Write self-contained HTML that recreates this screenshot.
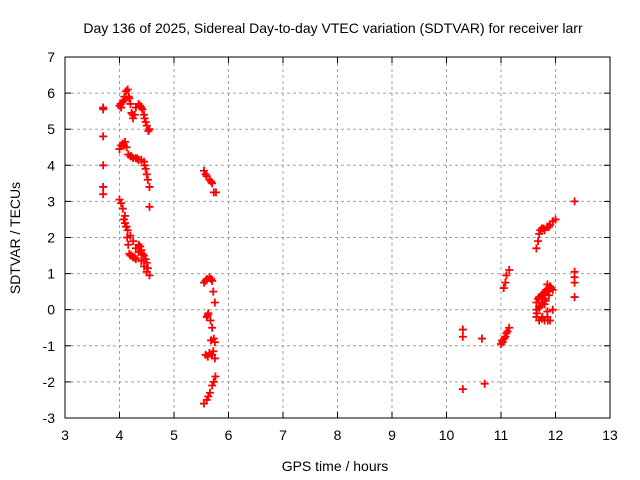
<!DOCTYPE html>
<html><head><meta charset="utf-8"><style>
body{margin:0;background:#fff;}
svg{display:block;font-family:"Liberation Sans",sans-serif;}
</style></head><body>
<svg id="chart" width="640" height="480" viewBox="0 0 640 480">
<rect width="640" height="480" fill="#fff"/>
<text x="333" y="33" font-size="14" text-anchor="middle">Day 136 of 2025, Sidereal Day-to-day VTEC variation (SDTVAR) for receiver larr</text>
<g id="grid"></g><g id="axes"></g><g id="pts"></g>
<text x="335" y="471" font-size="14" text-anchor="middle">GPS time / hours</text>
<text transform="translate(20,238) rotate(-90)" font-size="14" text-anchor="middle">SDTVAR / TECUs</text>
</svg>
<script>
const xTicks=[3,4,5,6,7,8,9,10,11,12,13];
const yTicks=[-3,-2,-1,0,1,2,3,4,5,6,7];
const times=[3.7,3.7,3.7,3.7,3.7,3.7,
4.0,4.03,4.06,4.09,4.12,4.15,4.17,4.2,4.22,4.25,4.28,4.3,4.35,4.38,4.42,4.45,4.48,4.5,4.53,4.55,4.02,4.08,4.18,4.24,4.4,4.46,
4.0,4.03,4.06,4.1,4.13,4.16,4.2,4.25,4.3,4.35,4.4,4.45,4.48,4.5,4.52,4.55,4.55,4.08,4.22,4.33,4.46,
4.0,4.03,4.06,4.1,4.12,4.14,4.16,4.18,4.2,4.25,4.3,4.1,4.15,4.2,4.25,4.3,4.35,4.4,4.45,4.5,4.55,4.35,4.4,4.45,4.5,4.08,4.13,4.22,4.28,4.38,4.42,4.48,4.52,
5.55,5.6,5.65,5.7,5.73,5.77,5.58,5.68,
5.55,5.6,5.65,5.7,5.72,5.75,5.6,5.63,5.67,5.7,5.73,5.75,5.62,5.65,5.7,5.75,5.55,5.6,5.63,5.66,5.7,5.73,5.76,5.58,5.68,5.62,5.68,5.58,5.72,
10.3,10.3,10.3,10.65,10.7,
11.0,11.03,11.06,11.1,11.15,11.05,11.08,11.1,11.15,11.02,11.08,11.12,
11.65,11.68,11.7,11.72,11.75,11.8,11.85,11.9,11.95,12.0,11.78,11.88,
11.65,11.7,11.75,11.8,11.85,11.9,11.95,11.65,11.7,11.75,11.8,11.85,11.9,11.7,11.75,11.8,11.85,11.9,11.95,11.65,11.7,11.8,11.85,11.68,11.72,11.78,11.82,11.88,11.92,11.66,11.74,11.83,11.76,11.86,
12.35,12.35,12.35,12.35,12.35];
const values=[5.55,4.8,4.0,3.4,3.2,5.6,
5.65,5.6,5.75,5.9,6.05,6.1,5.9,5.7,5.45,5.3,5.4,5.6,5.7,5.65,5.55,5.4,5.2,5.1,4.95,5.0,5.7,5.8,5.85,5.4,5.6,5.3,
4.45,4.55,4.6,4.65,4.5,4.3,4.25,4.2,4.2,4.15,4.15,4.1,3.9,3.75,3.6,3.4,2.85,4.55,4.25,4.18,4.0,
3.05,2.95,2.8,2.6,2.3,2.0,1.8,1.55,1.5,1.45,1.4,2.4,2.2,2.05,1.9,1.7,1.6,1.35,1.2,1.05,0.95,1.8,1.65,1.5,1.3,2.5,2.3,1.5,1.45,1.75,1.55,1.4,1.15,
3.85,3.7,3.6,3.5,3.25,3.25,3.75,3.55,
0.75,0.85,0.9,0.8,0.5,0.2,-0.2,-0.1,-0.3,-0.5,-0.8,-0.9,-1.3,-1.2,-1.25,-1.35,-2.6,-2.5,-2.4,-2.3,-2.1,-2.0,-1.85,0.8,0.85,-0.15,-0.85,-1.25,-1.15,
-0.55,-0.75,-2.2,-0.8,-2.05,
-0.95,-0.9,-0.8,-0.65,-0.5,0.6,0.75,0.95,1.1,-0.85,-0.75,-0.6,
1.7,1.9,2.1,2.2,2.25,2.2,2.3,2.35,2.45,2.5,2.25,2.3,
-0.2,-0.3,-0.25,-0.3,-0.2,-0.3,0.0,0.2,0.35,0.4,0.3,0.5,0.6,0.1,0.2,0.5,0.7,0.65,0.55,0.0,0.05,0.15,-0.05,0.3,0.1,0.45,0.25,0.4,0.6,-0.1,0.35,0.55,-0.2,-0.3,
3.0,1.05,0.9,0.75,0.35];
const L=65,R=610,T=57,B=418;
const xs=t=>L+(t-3)/10*(R-L);
const ys=v=>B-(v+3)/10*(B-T);
const NS='http://www.w3.org/2000/svg';
function mk(tag,attrs,parent){const e=document.createElementNS(NS,tag);for(const k in attrs)e.setAttribute(k,attrs[k]);parent.appendChild(e);return e;}
const grid=document.getElementById('grid'),axes=document.getElementById('axes'),pts=document.getElementById('pts');
xTicks.forEach(t=>{const x=xs(t);
 if(t>3&&t<13){const g=mk('line',{x1:x,x2:x,y1:T,y2:B,stroke:'#a0a0a0','stroke-dasharray':'3,3'},grid);
 
 }
 mk('line',{x1:x,x2:x,y1:B,y2:B-6,stroke:'#000'},axes);mk('line',{x1:x,x2:x,y1:T,y2:T+6,stroke:'#000'},axes);
 const l=mk('text',{x:x,y:B+22,'font-size':14,'text-anchor':'middle'},axes);l.textContent=t;
 
 });
yTicks.forEach(v=>{const y=ys(v);
 if(v>-3&&v<7){const g=mk('line',{x1:L,x2:R,y1:y,y2:y,stroke:'#a0a0a0','stroke-dasharray':'3,3'},grid);
 
 }
 mk('line',{x1:L,x2:L+6,y1:y,y2:y,stroke:'#000'},axes);mk('line',{x1:R,x2:R-6,y1:y,y2:y,stroke:'#000'},axes);
 const l=mk('text',{x:L-10,y:y+5,'font-size':14,'text-anchor':'end'},axes);l.textContent=v;
 
 });
const fr=mk('rect',{x:L,y:T,width:R-L,height:B-T,fill:'none',stroke:'#000'},axes);


times.forEach((t,i)=>{const x=xs(t),y=ys(values[i]);
 const p=mk('path',{d:`M${x-4},${y}H${x+4}M${x},${y-4}V${y+4}`,stroke:'#f00','stroke-width':1.8,fill:'none'},pts);
 
 });
</script>
</body></html>
